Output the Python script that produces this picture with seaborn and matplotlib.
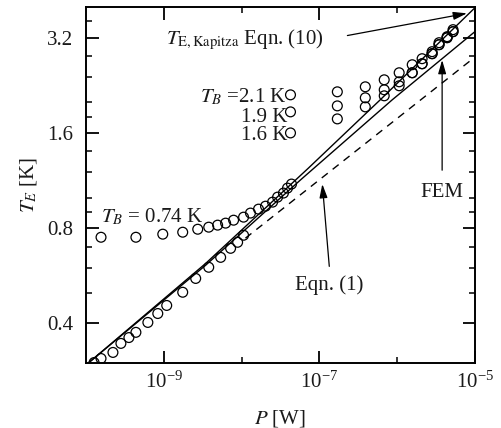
import matplotlib
matplotlib.use("Agg")
import matplotlib.pyplot as plt
from matplotlib.ticker import FixedLocator, NullFormatter, FuncFormatter, LogFormatterMathtext
import pandas as pd
import seaborn as sns

# ---- model curves: power P [W] vs electron temperature T_E [K] ----
p_kapitza = [1.09e-10, 3.45e-9, 7.23e-8, 6.05e-7, 1.0e-5]
t_kapitza = [0.301, 0.619, 1.239, 2.036, 3.98]

p_fem = [1.09e-10, 3.45e-9, 5.70e-8, 8.63e-7, 1.0e-5]
t_fem = [0.301, 0.611, 1.136, 2.036, 3.345]

p_eqn1 = [1.12e-8, 1.0e-5]
t_eqn1 = [0.744, 2.78]

# ---- measured points ----
p_low = [1.27e-10, 1.56e-10, 2.22e-10, 2.81e-10, 3.56e-10, 4.38e-10, 6.24e-10,
         8.37e-10, 1.09e-9, 1.75e-9, 2.57e-9, 3.78e-9, 5.38e-9, 7.22e-9,
         8.89e-9, 1.06e-8]
t_low = [0.301, 0.310, 0.324, 0.346, 0.361, 0.375, 0.403, 0.430, 0.456,
         0.502, 0.555, 0.602, 0.647, 0.691, 0.722, 0.760]

p_074 = [1.56e-10, 4.38e-10, 9.7e-10, 1.75e-9, 2.73e-9, 3.78e-9, 4.92e-9,
         6.23e-9, 7.89e-9, 1.06e-8, 1.30e-8, 1.65e-8, 2.03e-8, 2.50e-8,
         2.90e-8, 3.45e-8, 3.89e-8, 4.38e-8]
t_074 = [0.749, 0.749, 0.766, 0.777, 0.794, 0.806, 0.818, 0.830, 0.848,
         0.867, 0.893, 0.919, 0.939, 0.967, 1.003, 1.033, 1.071, 1.103]

p_high = [4.25e-8, 1.70e-7, 3.89e-7, 6.81e-7, 1.06e-6, 1.56e-6, 2.09e-6,
          2.81e-6, 3.45e-6, 4.38e-6, 5.22e-6]
t_21 = [2.111, 2.158, 2.238, 2.355, 2.479, 2.628, 2.746, 2.890, 3.085, 3.223, 3.392]
t_19 = [1.865, 1.948, 2.066, 2.190, 2.321, 2.479, 2.647, 2.848, 3.041, 3.200, 3.343]
t_16 = [1.600, 1.772, 1.934, 2.096, 2.255, 2.479, 2.647, 2.848, 3.041, 3.200, 3.343]

# ---- axis ticks ----
x_major = [1e-9, 1e-7, 1e-5]
x_minor = [1e-8, 1e-6]
y_major = [0.4, 0.8, 1.6, 3.2]
y_minor = [0.5, 0.6, 0.7, 0.9, 1.0, 1.2, 1.4, 1.8, 2.0, 2.4, 2.8, 3.6]

sns.set_theme(style="ticks")
plt.rcParams["font.family"] = ["Liberation Serif", "DejaVu Serif"]
plt.rcParams["mathtext.fontset"] = "stix"
plt.rcParams["axes.unicode_minus"] = True

FS = 15
INK = "#1a1a1a"

fig = plt.figure(figsize=(5.02, 4.28), dpi=100)
ax = fig.add_axes([86 / 502, 1 - 363 / 428, (475 - 86) / 502, (363 - 7) / 428])
ax.set_xscale("log")
ax.set_yscale("log")
ax.set_xlim(1e-10, 1e-5)
ax.set_ylim(0.3, 4.0)

# model curves
sns.lineplot(x=p_kapitza, y=t_kapitza, sort=False, estimator=None, ax=ax,
             color="black", lw=1.0)
sns.lineplot(x=p_fem, y=t_fem, sort=False, estimator=None, ax=ax,
             color="black", lw=1.0)
sns.lineplot(x=p_eqn1, y=t_eqn1, sort=False, estimator=None, ax=ax,
             color="black", lw=1.0, linestyle=(0, (5.5, 4.5)))

# measurements
frames = [
    pd.DataFrame({"P": p_low, "T": t_low}),
    pd.DataFrame({"P": p_074, "T": t_074}),
    pd.DataFrame({"P": p_high, "T": t_21}),
    pd.DataFrame({"P": p_high, "T": t_19}),
    pd.DataFrame({"P": p_high, "T": t_16}),
]
points = pd.concat(frames, ignore_index=True)
sns.scatterplot(data=points, x="P", y="T", ax=ax, marker="o", s=50,
                color="black", linewidth=0.9, zorder=3)
coll = ax.collections[-1]
coll.set_facecolor("none")
coll.set_edgecolor("black")
coll.set_linewidth(0.9)

# axes styling
for side in ax.spines.values():
    side.set_linewidth(1.4)
    side.set_color("black")
    side.set_visible(True)

ax.xaxis.set_major_locator(FixedLocator(x_major))
ax.xaxis.set_minor_locator(FixedLocator(x_minor))
ax.xaxis.set_major_formatter(LogFormatterMathtext())
ax.xaxis.set_minor_formatter(NullFormatter())
ax.yaxis.set_major_locator(FixedLocator(y_major))
ax.yaxis.set_minor_locator(FixedLocator(y_minor))
ax.yaxis.set_major_formatter(FuncFormatter(lambda v, pos: f"{v:g}"))
ax.yaxis.set_minor_formatter(NullFormatter())

ax.tick_params(which="both", direction="in", top=True, right=True,
               color="black", labelsize=FS, labelcolor=INK)
ax.tick_params(which="major", length=9, width=1.3, pad=6)
ax.tick_params(axis="y", which="major", pad=9)
ax.tick_params(which="minor", length=4.5, width=1.1)

ax.set_xlabel("$P$ [W]", fontsize=FS, color=INK, labelpad=11)
ax.set_ylabel("$T_E$ [K]", fontsize=FS, color=INK, labelpad=6)

# annotations
txt = dict(fontsize=FS, color=INK)
ax.text(1.06e-9, 3.04, r"$T_{\mathrm{E,Kapitza}}$ Eqn. (10)", ha="left",
        va="baseline", **txt)
ax.text(3.85e-8, 2.0, r"$T_B$ =2.1 K", ha="right", va="baseline", **txt)
ax.text(3.85e-8, 1.73, "1.9 K", ha="right", va="baseline", **txt)
ax.text(3.85e-8, 1.52, "1.6 K", ha="right", va="baseline", **txt)
ax.text(1.56e-10, 0.836, r"$T_B$ = 0.74 K", ha="left", va="baseline", **txt)
ax.text(1.34e-7, 0.509, "Eqn. (1)", ha="center", va="baseline", **txt)
ax.text(3.78e-6, 1.003, "FEM", ha="center", va="baseline", **txt)

arrow = dict(arrowstyle="-|>,head_length=0.55,head_width=0.16",
             color="black", lw=0.9, shrinkA=0, shrinkB=0, mutation_scale=15)
ax.annotate("", xy=(7.89e-6, 3.82), xytext=(2.29e-7, 3.25), arrowprops=arrow)
ax.annotate("", xy=(1.09e-7, 1.103), xytext=(1.34e-7, 0.606), arrowprops=arrow)
ax.annotate("", xy=(3.78e-6, 2.72), xytext=(3.78e-6, 1.22), arrowprops=arrow)

fig.savefig("out.png", dpi=100)
